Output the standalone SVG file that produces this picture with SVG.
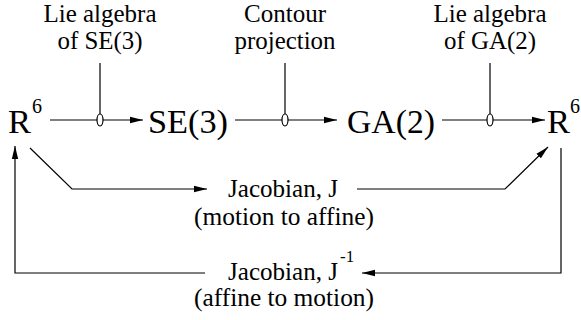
<svg xmlns="http://www.w3.org/2000/svg" width="581" height="320" viewBox="0 0 581 320">
<defs>
<marker id="ah" markerWidth="14" markerHeight="8" refX="13" refY="4" orient="auto" markerUnits="userSpaceOnUse">
<path d="M0,0.8 L13,4 L0,7.2 Z" fill="#000"/>
</marker>
<style>
text{font-family:"Liberation Serif","DejaVu Serif","Times New Roman",serif;fill:#000}
.lab{font-size:25px}
.big{font-size:34px}
.sup{font-size:20px}
.ln{stroke:#000;stroke-width:1.2;fill:none}
.el{stroke:#000;stroke-width:1.2;fill:#fff}
</style>
</defs>
<rect width="581" height="320" fill="#fff"/>
<g id="labels">
<text class="lab" x="100" y="22" text-anchor="middle" textLength="113" lengthAdjust="spacingAndGlyphs">Lie algebra</text>
<text class="lab" x="100" y="49" text-anchor="middle" textLength="85" lengthAdjust="spacingAndGlyphs">of SE(3)</text>
<text class="lab" x="285" y="22" text-anchor="middle" textLength="82" lengthAdjust="spacingAndGlyphs">Contour</text>
<text class="lab" x="285" y="49" text-anchor="middle" textLength="101" lengthAdjust="spacingAndGlyphs">projection</text>
<text class="lab" x="490" y="22" text-anchor="middle" textLength="113" lengthAdjust="spacingAndGlyphs">Lie algebra</text>
<text class="lab" x="490" y="49" text-anchor="middle" textLength="92" lengthAdjust="spacingAndGlyphs">of GA(2)</text>
</g>
<g id="node-R6-left"><text class="big" x="8" y="133" textLength="23" lengthAdjust="spacingAndGlyphs">R</text><text class="sup" x="32" y="113">6</text></g>
<g id="node-SE3"><text class="big" x="148" y="133" textLength="80" lengthAdjust="spacingAndGlyphs">SE(3)</text></g>
<g id="node-GA2"><text class="big" x="347" y="133" textLength="88" lengthAdjust="spacingAndGlyphs">GA(2)</text></g>
<g id="node-R6-right"><text class="big" x="547" y="133" textLength="23" lengthAdjust="spacingAndGlyphs">R</text><text class="sup" x="570" y="113">6</text></g>
<g id="node-jac"><text class="lab" x="228" y="197" textLength="110" lengthAdjust="spacingAndGlyphs">Jacobian, J</text>
<text class="lab" x="284" y="225" text-anchor="middle" textLength="180" lengthAdjust="spacingAndGlyphs">(motion to affine)</text></g>
<g id="node-jacinv"><text class="lab" x="228" y="280" textLength="110" lengthAdjust="spacingAndGlyphs">Jacobian, J</text><text style="font-size:17px" x="340" y="262">-1</text>
<text class="lab" x="284" y="306" text-anchor="middle" textLength="180" lengthAdjust="spacingAndGlyphs">(affine to motion)</text></g>
<g id="connectors">
<line class="ln" x1="50" y1="120" x2="143" y2="120" marker-end="url(#ah)"/>
<line class="ln" x1="235" y1="120" x2="337" y2="120" marker-end="url(#ah)"/>
<line class="ln" x1="442" y1="120" x2="545" y2="120" marker-end="url(#ah)"/>
<line class="ln" x1="100" y1="63" x2="100" y2="114"/>
<line class="ln" x1="285" y1="63" x2="285" y2="114"/>
<line class="ln" x1="490" y1="63" x2="490" y2="114"/>
<ellipse class="el" cx="100" cy="120" rx="3" ry="6"/>
<ellipse class="el" cx="285" cy="120" rx="3" ry="6"/>
<ellipse class="el" cx="490" cy="120" rx="3" ry="6"/>
<polyline class="ln" points="30,148 72,189 207,189" marker-end="url(#ah)"/>
<polyline class="ln" points="357,189 505,189 548,147" marker-end="url(#ah)"/>
<polyline class="ln" points="205,273 15,273 15,146" marker-end="url(#ah)"/>
<polyline class="ln" points="561,148 561,273 362,273" marker-end="url(#ah)"/>
</g>
</svg>
